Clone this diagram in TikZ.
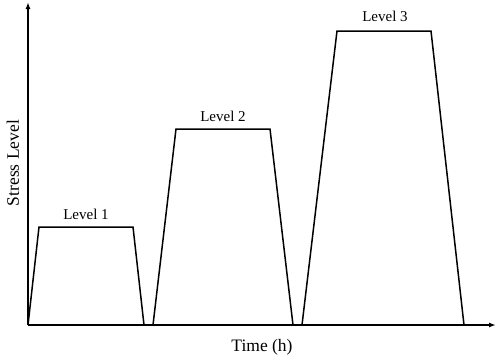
\documentclass[tikz,border=0pt]{standalone}
\usepackage{fontspec}
\setmainfont{Liberation Serif}
\usetikzlibrary{arrows.meta}

\begin{document}
\begin{tikzpicture}[
    x=1pt, y=-1pt,
    axis/.style={-{Latex[length=7pt,width=5pt]}, line width=1.8pt},
    profile/.style={line width=1.5pt, line join=miter},
    lvl/.style={font=\fontsize{15}{17}\selectfont},
    axislabel/.style={font=\fontsize{17.5}{20}\selectfont}
  ]
    \useasboundingbox (0,0) rectangle (498,359);
    \coordinate (origin) at (28,325);
    \coordinate (tend) at (496,325);
    \coordinate (send) at (28,2);

    % axes
    \draw[axis] (origin) -- (tend);
    \draw[axis] (origin) -- (send);

    % stress steps
    \draw[profile] (origin) -- (39,227) -- (133,227) -- (144,325);
    \draw[profile] (153,325) -- (176,129) -- (270,129) -- (293,325);
    \draw[profile] (302,325) -- (337,31) -- (431,31) -- (464,325);

    \node[lvl] (lvlA) at (86,214) {Level 1};
    \node[lvl] (lvlB) at (223,116) {Level 2};
    \node[lvl] (lvlC) at (385,16) {Level 3};

    \node[axislabel] (tlabel) at (262,347) {Time (h)};
    \node[axislabel, rotate=90] (slabel) at (13,163) {Stress Level};
\end{tikzpicture}
\end{document}
